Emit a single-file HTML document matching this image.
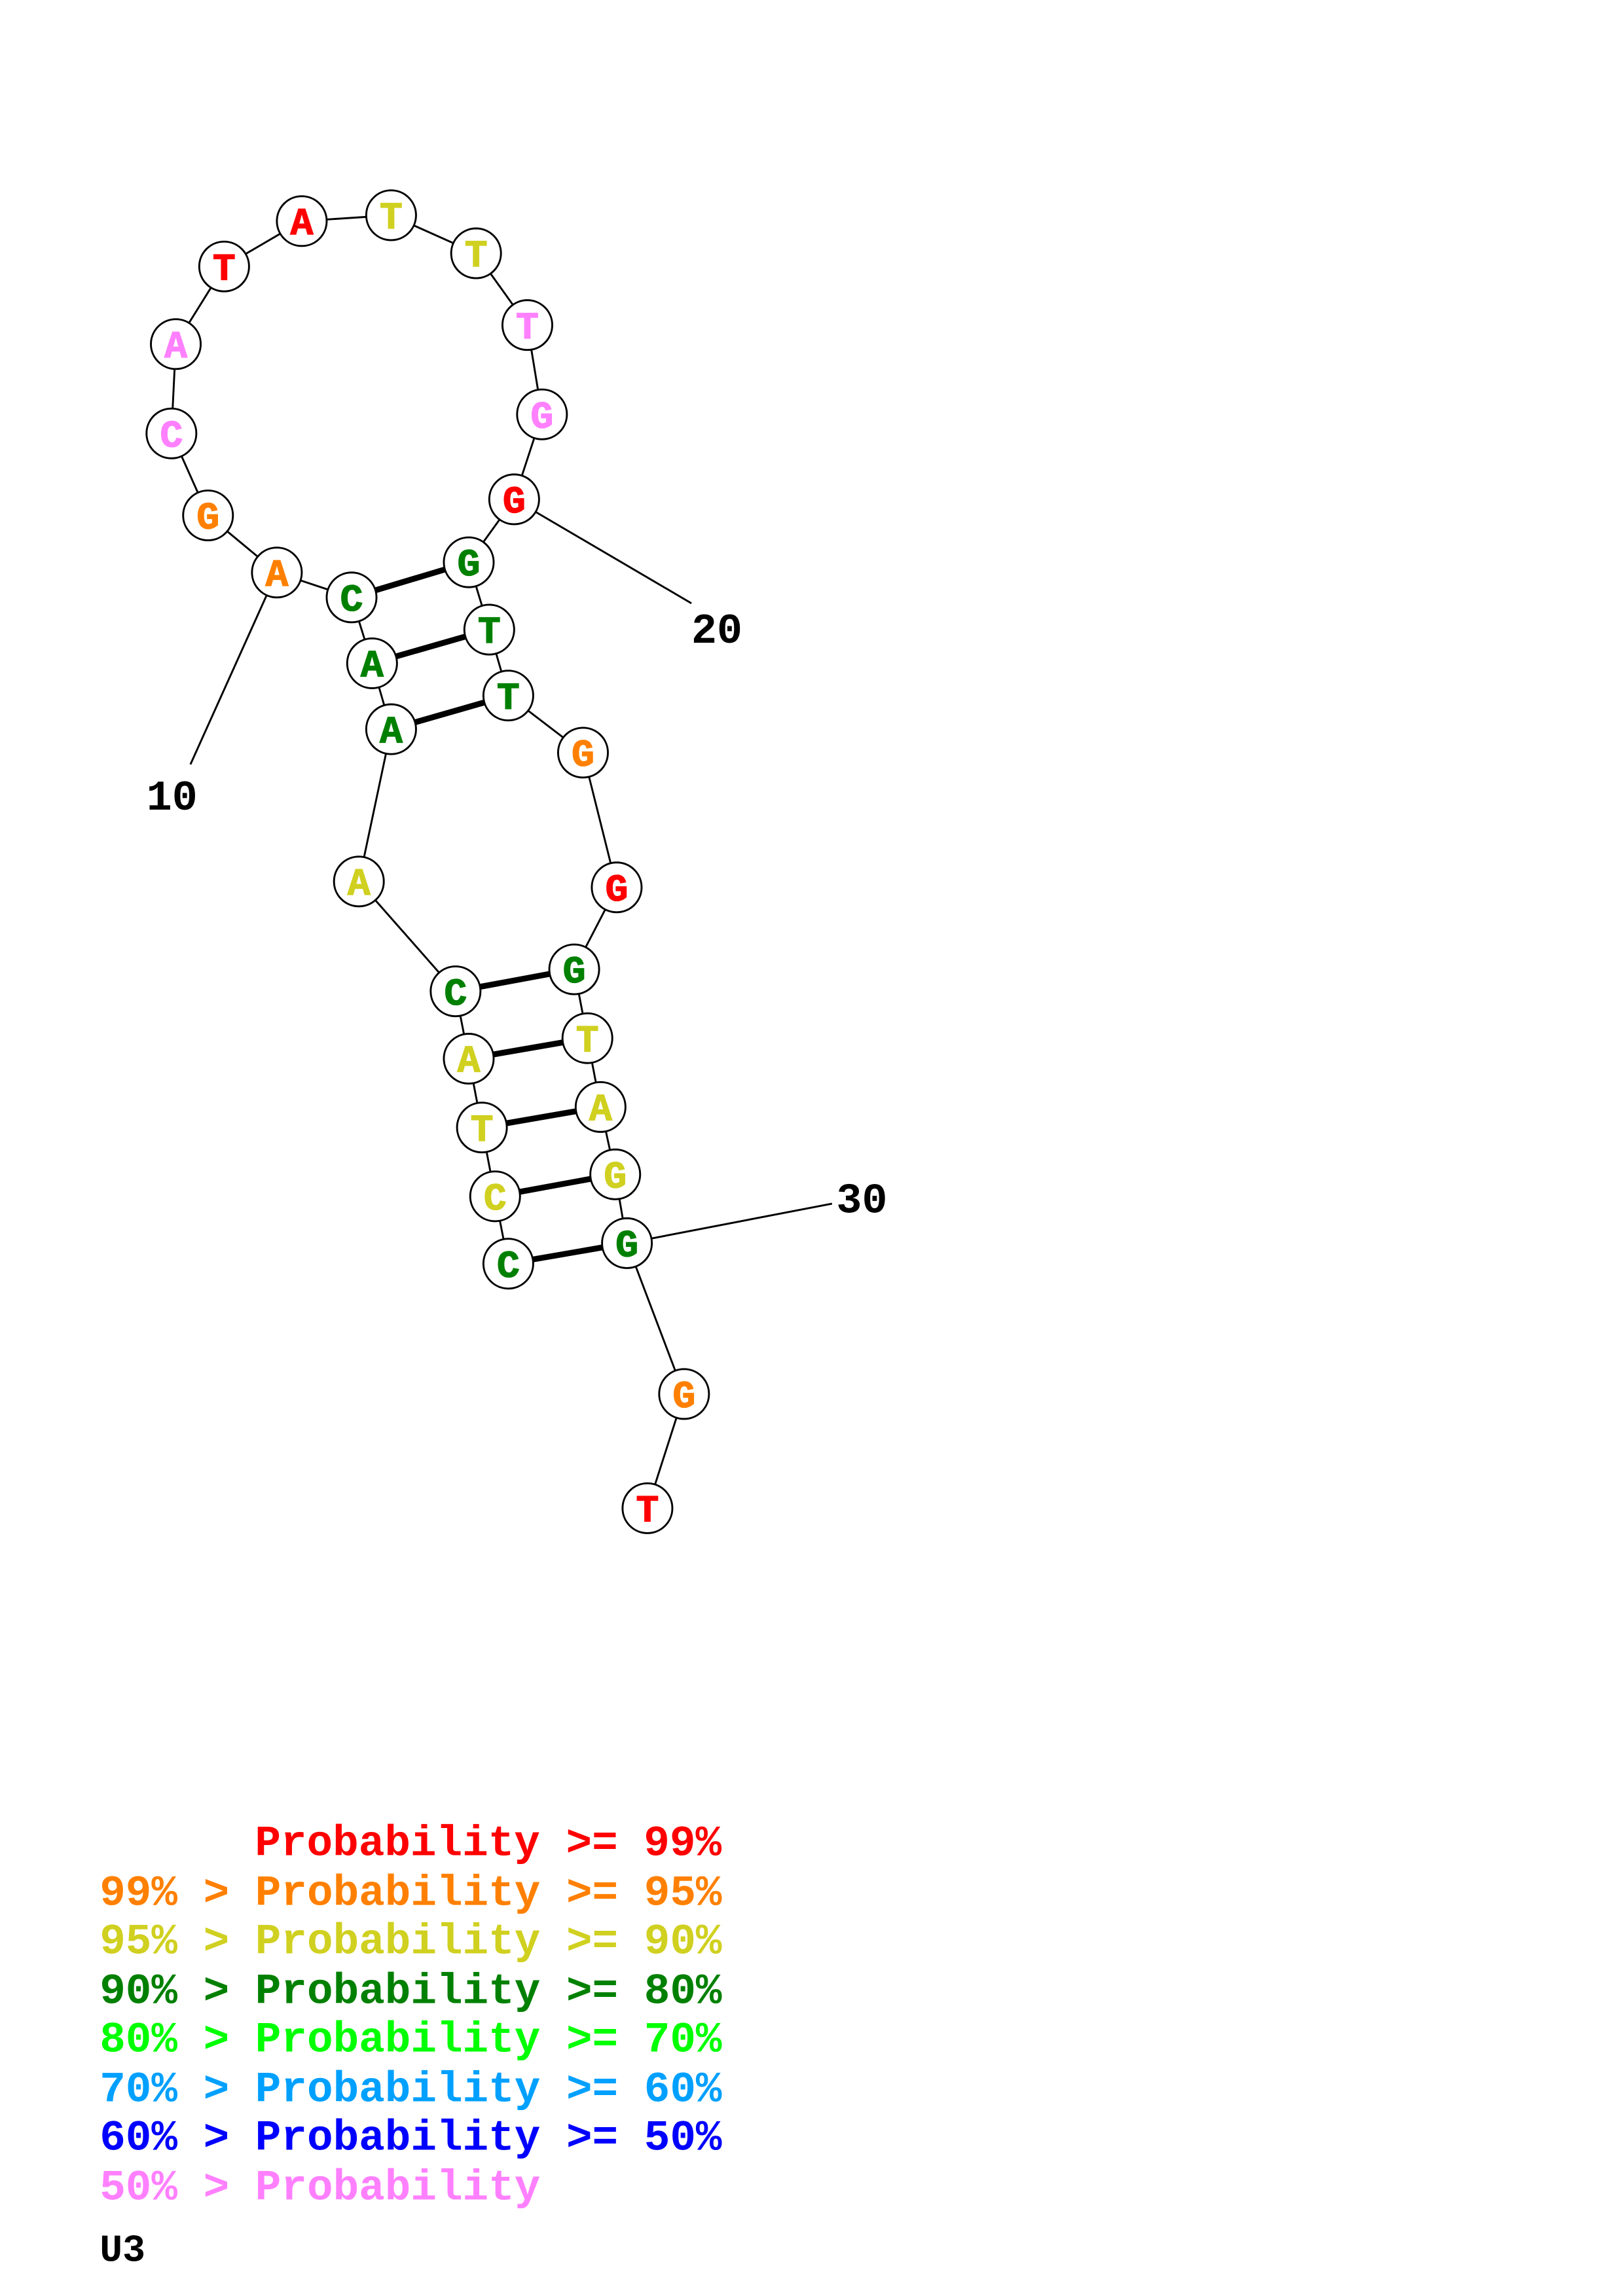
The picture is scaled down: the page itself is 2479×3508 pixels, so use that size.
<!DOCTYPE html>
<html><head><meta charset="utf-8"><style>html,body{margin:0;padding:0;background:#fff}svg{display:block}</style></head><body>
<svg width="2479" height="3508" viewBox="0 0 1108 1568" xmlns="http://www.w3.org/2000/svg">
<rect width="1108" height="1568" fill="#fff"/>
<g stroke="#000" stroke-width="1.3" fill="none">
<polyline points="442,1030 467,952 428,849 420,802 410,756 401,709 392,662 421,606 398,514 347,475 334,430 320,384 351,341 370,283 360,222 325,173 267,147 206,151 153,182 120,235 117,296 142,352 189,391 240,408 254,453 267,498 245,602 311,677 320,723 329,770 338,817 347,863"/>
<line x1="189" y1="391" x2="130" y2="522"/>
<line x1="351" y1="341" x2="472" y2="412"/>
<line x1="428" y1="849" x2="568" y2="822"/>
</g>
<g stroke="#000" stroke-width="4">
<line x1="240" y1="408" x2="320" y2="384"/>
<line x1="254" y1="453" x2="334" y2="430"/>
<line x1="267" y1="498" x2="347" y2="475"/>
<line x1="311" y1="677" x2="392" y2="662"/>
<line x1="320" y1="723" x2="401" y2="709"/>
<line x1="329" y1="770" x2="410" y2="756"/>
<line x1="338" y1="817" x2="420" y2="802"/>
<line x1="347" y1="863" x2="428" y2="849"/>
</g>
<g stroke="#000" stroke-width="1.3" fill="#fff">
<circle cx="442" cy="1030" r="17"/><circle cx="467" cy="952" r="17"/><circle cx="428" cy="849" r="17"/><circle cx="420" cy="802" r="17"/><circle cx="410" cy="756" r="17"/><circle cx="401" cy="709" r="17"/><circle cx="392" cy="662" r="17"/><circle cx="421" cy="606" r="17"/><circle cx="398" cy="514" r="17"/><circle cx="347" cy="475" r="17"/><circle cx="334" cy="430" r="17"/><circle cx="320" cy="384" r="17"/><circle cx="351" cy="341" r="17"/><circle cx="370" cy="283" r="17"/><circle cx="360" cy="222" r="17"/><circle cx="325" cy="173" r="17"/><circle cx="267" cy="147" r="17"/><circle cx="206" cy="151" r="17"/><circle cx="153" cy="182" r="17"/><circle cx="120" cy="235" r="17"/><circle cx="117" cy="296" r="17"/><circle cx="142" cy="352" r="17"/><circle cx="189" cy="391" r="17"/><circle cx="240" cy="408" r="17"/><circle cx="254" cy="453" r="17"/><circle cx="267" cy="498" r="17"/><circle cx="245" cy="602" r="17"/><circle cx="311" cy="677" r="17"/><circle cx="320" cy="723" r="17"/><circle cx="329" cy="770" r="17"/><circle cx="338" cy="817" r="17"/><circle cx="347" cy="863" r="17"/>
</g>
<g font-family="Liberation Mono, monospace" font-weight="bold" font-size="26" text-anchor="middle" stroke-width="0.6">
<text x="442" y="1039" fill="#ff0000" stroke="#ff0000">T</text>
<text x="467" y="961" fill="#ff8000" stroke="#ff8000">G</text>
<text x="428" y="858" fill="#008000" stroke="#008000">G</text>
<text x="420" y="811" fill="#d0d020" stroke="#d0d020">G</text>
<text x="410" y="765" fill="#d0d020" stroke="#d0d020">A</text>
<text x="401" y="718" fill="#d0d020" stroke="#d0d020">T</text>
<text x="392" y="671" fill="#008000" stroke="#008000">G</text>
<text x="421" y="615" fill="#ff0000" stroke="#ff0000">G</text>
<text x="398" y="523" fill="#ff8000" stroke="#ff8000">G</text>
<text x="347" y="484" fill="#008000" stroke="#008000">T</text>
<text x="334" y="439" fill="#008000" stroke="#008000">T</text>
<text x="320" y="393" fill="#008000" stroke="#008000">G</text>
<text x="351" y="350" fill="#ff0000" stroke="#ff0000">G</text>
<text x="370" y="292" fill="#ff80ff" stroke="#ff80ff">G</text>
<text x="360" y="231" fill="#ff80ff" stroke="#ff80ff">T</text>
<text x="325" y="182" fill="#d0d020" stroke="#d0d020">T</text>
<text x="267" y="156" fill="#d0d020" stroke="#d0d020">T</text>
<text x="206" y="160" fill="#ff0000" stroke="#ff0000">A</text>
<text x="153" y="191" fill="#ff0000" stroke="#ff0000">T</text>
<text x="120" y="244" fill="#ff80ff" stroke="#ff80ff">A</text>
<text x="117" y="305" fill="#ff80ff" stroke="#ff80ff">C</text>
<text x="142" y="361" fill="#ff8000" stroke="#ff8000">G</text>
<text x="189" y="400" fill="#ff8000" stroke="#ff8000">A</text>
<text x="240" y="417" fill="#008000" stroke="#008000">C</text>
<text x="254" y="462" fill="#008000" stroke="#008000">A</text>
<text x="267" y="507" fill="#008000" stroke="#008000">A</text>
<text x="245" y="611" fill="#d0d020" stroke="#d0d020">A</text>
<text x="311" y="686" fill="#008000" stroke="#008000">C</text>
<text x="320" y="732" fill="#d0d020" stroke="#d0d020">A</text>
<text x="329" y="779" fill="#d0d020" stroke="#d0d020">T</text>
<text x="338" y="826" fill="#d0d020" stroke="#d0d020">C</text>
<text x="347" y="872" fill="#008000" stroke="#008000">C</text>
</g>
<g font-family="Liberation Mono, monospace" font-weight="bold" font-size="29" fill="#000">
<text x="100" y="553">10</text>
<text x="472" y="439">20</text>
<text x="571" y="828">30</text>
</g>
<g font-family="Liberation Mono, monospace" font-weight="bold" font-size="29.5">
<text x="174" y="1267" fill="#ff0000">Probability &gt;= 99%</text>
<text x="68" y="1301" fill="#ff8000">99% &gt; Probability &gt;= 95%</text>
<text x="68" y="1334" fill="#d0d020">95% &gt; Probability &gt;= 90%</text>
<text x="68" y="1368" fill="#008000">90% &gt; Probability &gt;= 80%</text>
<text x="68" y="1401" fill="#00ff00">80% &gt; Probability &gt;= 70%</text>
<text x="68" y="1435" fill="#00a0ff">70% &gt; Probability &gt;= 60%</text>
<text x="68" y="1468" fill="#0000ff">60% &gt; Probability &gt;= 50%</text>
<text x="68" y="1502" fill="#ff80ff">50% &gt; Probability</text>
<text x="68" y="1544" fill="#000" font-size="26">U3</text>
</g>
</svg>
</body></html>
